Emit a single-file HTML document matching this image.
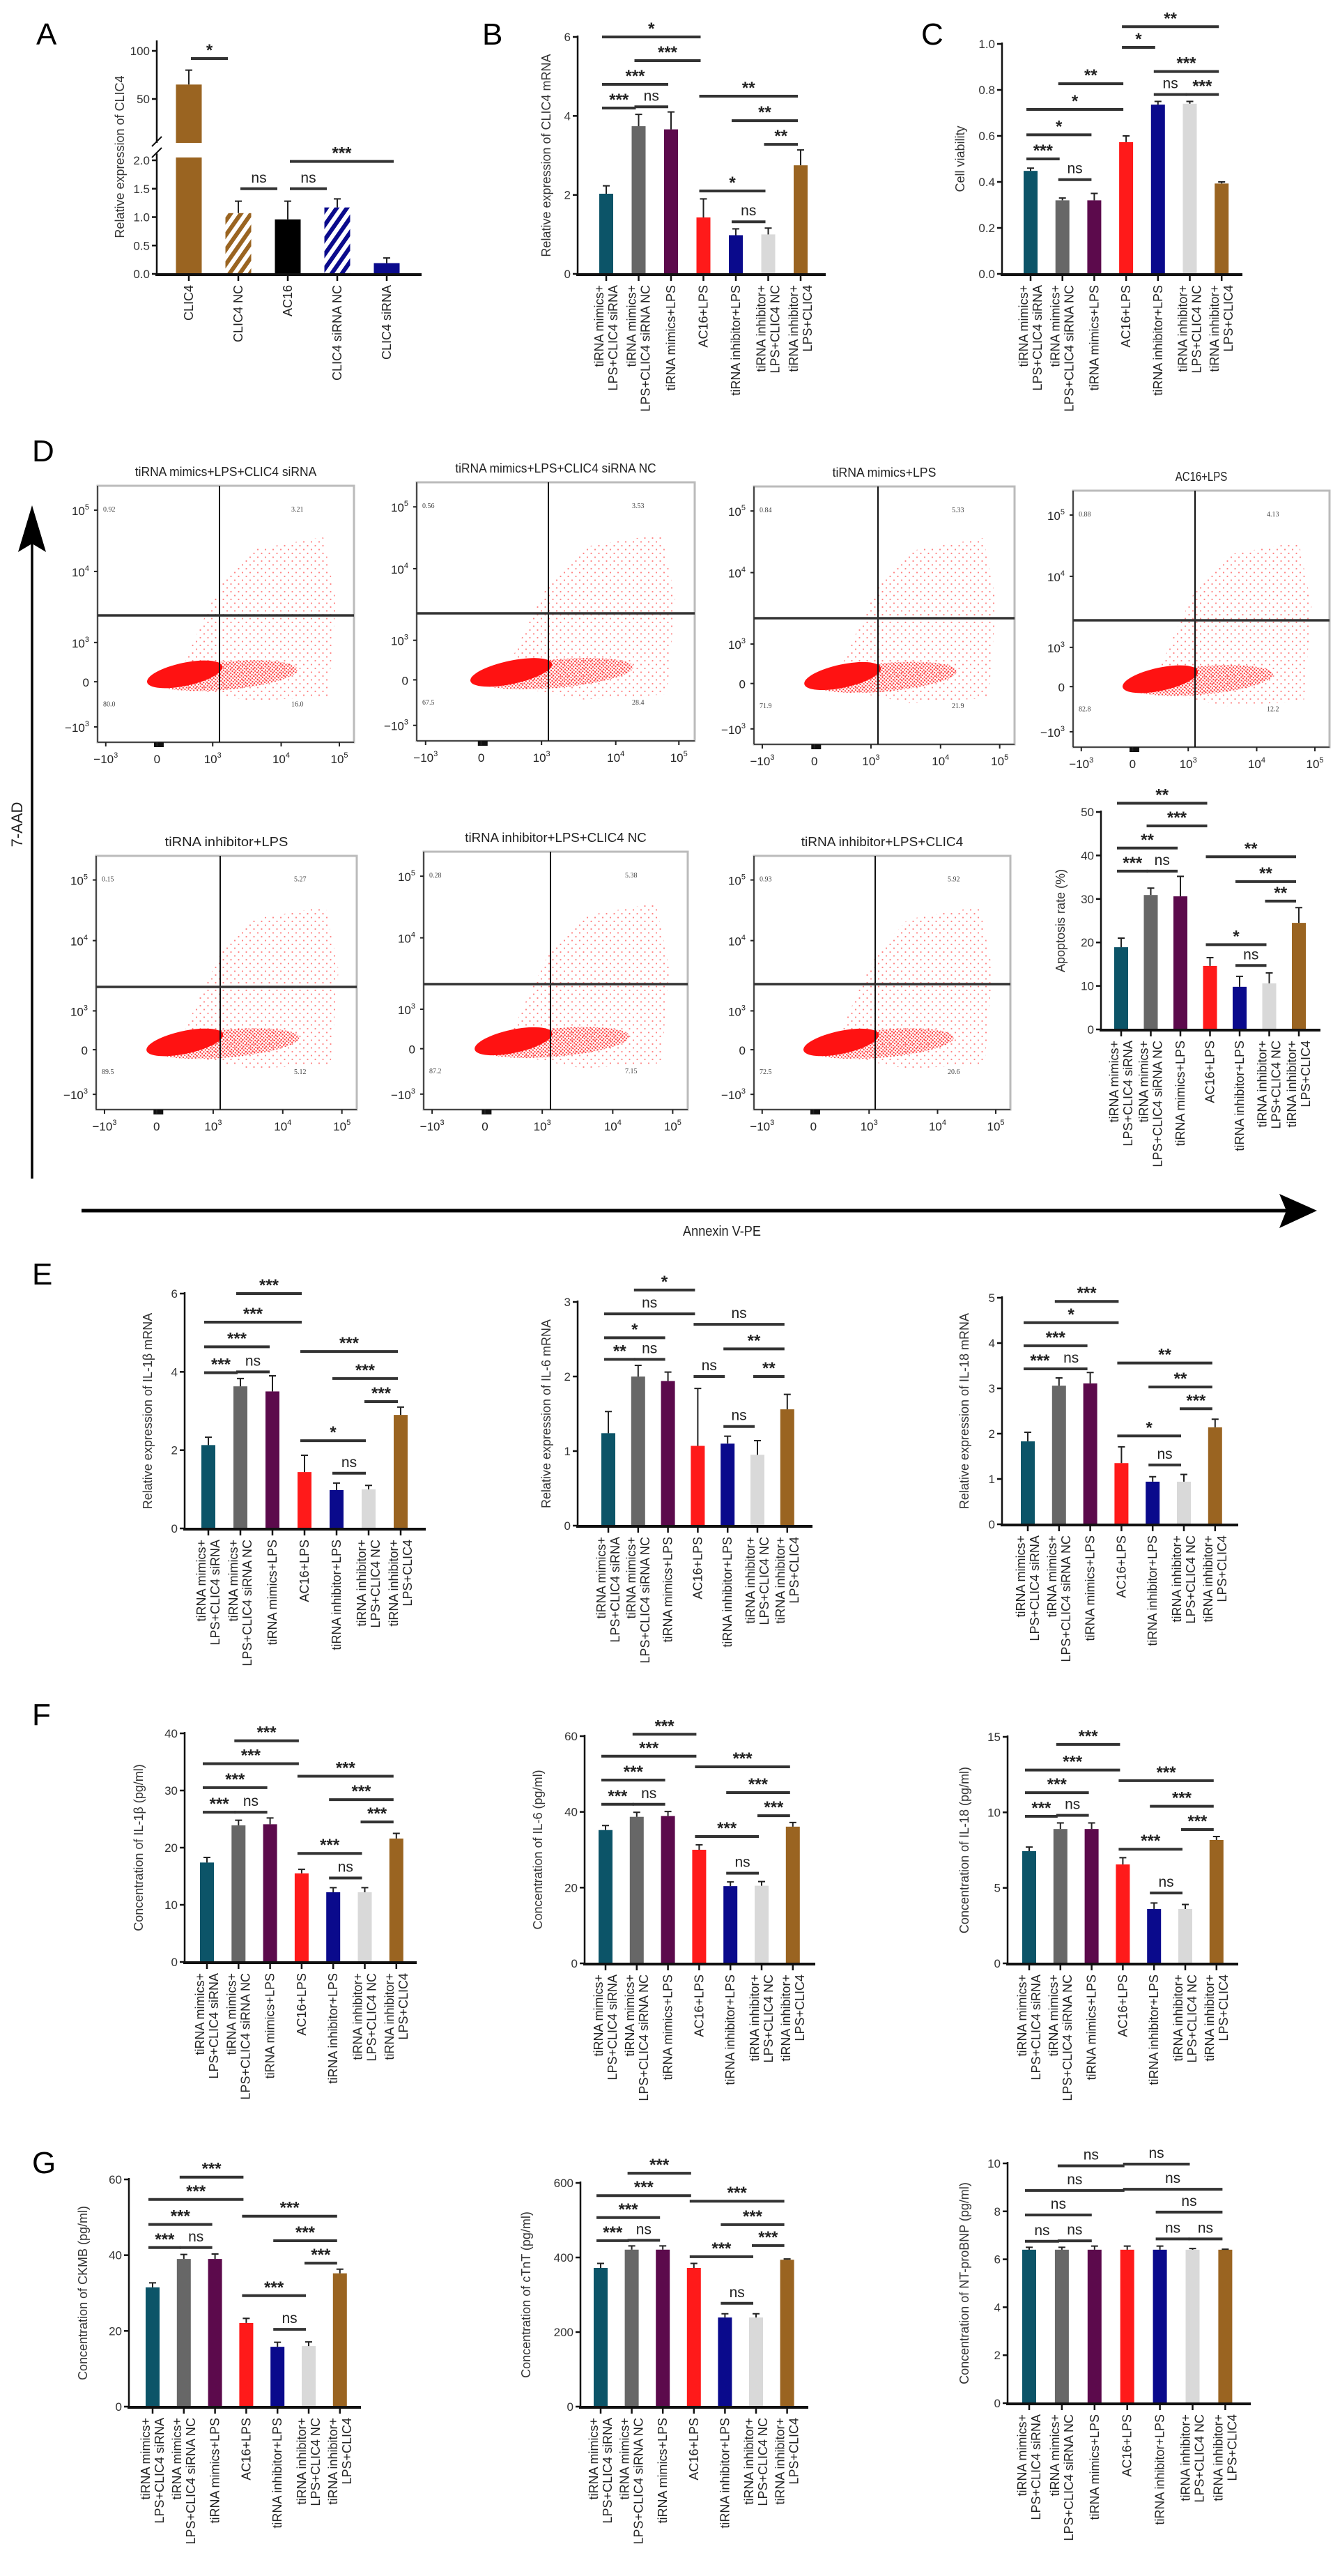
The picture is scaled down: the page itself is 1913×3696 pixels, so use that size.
<!DOCTYPE html>
<html><head><meta charset="utf-8">
<style>
html,body{margin:0;padding:0;background:#fff;}
svg{display:block;font-family:"Liberation Sans",Arial,sans-serif;}
</style></head>
<body>
<svg id="fig" width="1913" height="3696" viewBox="0 0 1913 3696" xmlns="http://www.w3.org/2000/svg">
<defs>
<pattern id="hatchBrown" patternUnits="userSpaceOnUse" width="12" height="12" patternTransform="rotate(35)"><rect width="12" height="12" fill="#fff"/><rect width="6" height="12" fill="#9a6421"/></pattern>
<pattern id="hatchNavy" patternUnits="userSpaceOnUse" width="12" height="12" patternTransform="rotate(35)"><rect width="12" height="12" fill="#fff"/><rect width="6" height="12" fill="#0a0a8c"/></pattern>
<pattern id="dots" patternUnits="userSpaceOnUse" width="11" height="11"><circle cx="1.5" cy="2" r="1.1" fill="#ff2020"/><circle cx="7" cy="7.5" r="1.1" fill="#ff2020"/></pattern>
<pattern id="dotsDense" patternUnits="userSpaceOnUse" width="5" height="5"><circle cx="1.5" cy="1.5" r="1.2" fill="#ff1010"/><circle cx="4" cy="3.8" r="1.2" fill="#ff1010"/></pattern>
</defs>
</svg>
<script>
// ---------- DATA ----------
const groups7 = [["tiRNA mimics+","LPS+CLIC4 siRNA"],["tiRNA mimics+","LPS+CLIC4 siRNA NC"],["tiRNA mimics+LPS"],["AC16+LPS"],["tiRNA inhibitor+LPS"],["tiRNA inhibitor+","LPS+CLIC4 NC"],["tiRNA inhibitor+","LPS+CLIC4"]];
const colors7 = ["#0c5468","#676767","#5c0a4c","#ff1a1a","#0a0a8c","#d9d9d9","#9a6421"];

const aCats = ["CLIC4","CLIC4 NC","AC16","CLIC4 siRNA NC","CLIC4 siRNA"];
const aVals = [65, 1.07, 0.96, 1.17, 0.19];
const aCaps = [80, 1.28, 1.28, 1.32, 0.28];
const aSig = [[0,1,"upper",92,"*"],[1,2,"lower",1.5,"ns"],[2,3,"lower",1.5,"ns"],[2,4,"lower",1.98,"***"]];

const bVals=[2.03,3.74,3.66,1.43,0.98,1.0,2.75];
const bCaps=[2.23,4.04,4.1,1.9,1.14,1.16,3.14];
const bSig=[[0,1,4.2,"***"],[1,2,4.23,"ns"],[0,2,4.8,"***"],[1,3,5.4,"***"],[0,3,6.0,"*"],[3,5,2.1,"*"],[4,5,1.32,"ns"],[5,6,3.28,"**"],[4,6,3.88,"**"],[3,6,4.5,"**"]];
const bTicks=[0,2,4,6];

const cVals=[0.448,0.32,0.32,0.573,0.736,0.74,0.393];
const cCaps=[0.46,0.33,0.35,0.6,0.75,0.75,0.40];
const cSig=[[0,1,0.5,"***"],[1,2,0.41,"ns"],[0,2,0.605,"*"],[0,3,0.715,"*"],[1,3,0.827,"**"],[3,4,0.985,"*"],[4,5,0.78,"ns"],[5,6,0.78,"***"],[4,6,0.88,"***"],[3,6,1.075,"**"]];
const cTicks=[0,0.2,0.4,0.6,0.8,1.0];
const cTickLbl=["0.0","0.2","0.4","0.6","0.8","1.0"];

const apVals=[18.9,30.9,30.6,14.6,9.8,10.6,24.5];
const apCaps=[21,32.5,35.2,16.5,12.2,13,28];
const apSig=[[0,1,36.4,"***"],[1,2,36.4,"ns"],[0,2,41.7,"**"],[1,3,46.8,"***"],[0,3,52,"**"],[3,5,19.5,"*"],[4,5,14.7,"ns"],[5,6,29.5,"**"],[4,6,34,"**"],[3,6,39.7,"**"]];
const apTicks=[0,10,20,30,40,50];

const e1Vals=[2.13,3.63,3.5,1.44,0.98,1.0,2.9];
const e1Caps=[2.33,3.83,3.9,1.87,1.16,1.1,3.1];
const e1Sig=[[0,1,3.98,"***"],[1,2,4.0,"ns"],[0,2,4.64,"***"],[0,3,5.27,"***"],[1,3,6.0,"***"],[3,5,2.24,"*"],[4,5,1.41,"ns"],[5,6,3.24,"***"],[4,6,3.83,"***"],[3,6,4.52,"***"]];
const e1Ticks=[0,2,4,6];

const e2Vals=[1.24,2.0,1.94,1.07,1.1,0.95,1.56];
const e2Caps=[1.53,2.15,2.06,1.84,1.2,1.14,1.76];
const e2Sig=[[0,1,2.23,"**"],[1,2,2.23,"ns"],[0,2,2.52,"*"],[0,3,2.84,"ns"],[1,3,3.16,"*"],[3,4,2.0,"ns"],[4,5,1.33,"ns"],[5,6,2.0,"**"],[4,6,2.37,"**"],[3,6,2.7,"ns"]];
const e2Ticks=[0,1,2,3];

const e3Vals=[1.83,3.06,3.11,1.35,0.94,0.94,2.14];
const e3Caps=[2.03,3.23,3.35,1.71,1.05,1.1,2.32];
const e3Sig=[[0,1,3.43,"***"],[1,2,3.43,"ns"],[0,2,3.94,"***"],[0,3,4.45,"*"],[1,3,4.92,"***"],[3,5,1.95,"*"],[4,5,1.31,"ns"],[5,6,2.55,"***"],[4,6,3.03,"**"],[3,6,3.56,"**"]];
const e3Ticks=[0,1,2,3,4,5];

const f1Vals=[17.4,23.9,24.1,15.5,12.2,12.2,21.6];
const f1Caps=[18.3,24.8,25.2,16.2,13,13,22.5];
const f1Sig=[[0,1,26.2,"***"],[1,2,26.2,"ns"],[0,2,30.5,"***"],[0,3,34.7,"***"],[1,3,38.7,"***"],[3,5,19,"***"],[4,5,14.7,"ns"],[5,6,24.5,"***"],[4,6,28.4,"***"],[3,6,32.5,"***"]];
const f1Ticks=[0,10,20,30,40];

const f2Vals=[35.2,38.7,38.9,30,20.4,20.5,36.1];
const f2Caps=[36.4,39.9,40.1,31.3,21.5,21.6,37.2];
const f2Sig=[[0,1,42,"***"],[1,2,42,"ns"],[0,2,48.4,"***"],[0,3,54.7,"***"],[1,3,60.5,"***"],[3,5,33.5,"***"],[4,5,23.8,"ns"],[5,6,39,"***"],[4,6,45.1,"***"],[3,6,51.9,"***"]];
const f2Ticks=[0,20,40,60];

const f3Vals=[7.43,8.9,8.9,6.55,3.6,3.6,8.17];
const f3Caps=[7.7,9.3,9.3,7.0,4.0,3.9,8.4];
const f3Sig=[[0,1,9.74,"***"],[1,2,9.8,"ns"],[0,2,11.3,"***"],[0,3,12.8,"***"],[1,3,14.5,"***"],[3,5,7.56,"***"],[4,5,4.66,"ns"],[5,6,8.86,"***"],[4,6,10.4,"***"],[3,6,12.1,"***"]];
const f3Ticks=[0,5,10,15];

const g1Vals=[31.5,39,39,22.1,15.8,16,35.2];
const g1Caps=[32.7,40.2,40.3,23.3,17,17.1,36.3];
const g1Sig=[[0,1,42,"***"],[1,2,42,"ns"],[0,2,48.1,"***"],[0,3,54.7,"***"],[1,3,60.6,"***"],[3,5,29.3,"***"],[4,5,20.4,"ns"],[5,6,37.9,"***"],[4,6,43.8,"***"],[3,6,50.3,"***"]];
const g1Ticks=[0,20,40,60];

const g2Vals=[372,421,421,372,239,239,394];
const g2Caps=[384,431,431,384,249,249,396];
const g2Sig=[[0,1,445,"***"],[1,2,446,"ns"],[0,2,507,"***"],[0,3,566,"***"],[1,3,626,"***"],[3,5,402,"***"],[4,5,277,"ns"],[5,6,432,"***"],[4,6,488,"***"],[3,6,551,"***"]];
const g2Ticks=[0,200,400,600];

const g3Vals=[6.4,6.4,6.4,6.4,6.4,6.4,6.4];
const g3Caps=[6.5,6.5,6.55,6.55,6.55,6.45,6.42];
const g3Sig=[[0,1,6.75,"ns"],[1,2,6.77,"ns"],[0,2,7.85,"ns"],[0,3,8.87,"ns"],[1,3,9.9,"ns"],[3,5,9.97,"ns"],[4,5,6.85,"ns"],[5,6,6.85,"ns"],[4,6,7.97,"ns"],[3,6,8.92,"ns"]];
const g3Ticks=[0,2,4,6,8,10];

const flowTitles=["tiRNA mimics+LPS+CLIC4 siRNA","tiRNA mimics+LPS+CLIC4 siRNA NC","tiRNA mimics+LPS","AC16+LPS","tiRNA inhibitor+LPS","tiRNA inhibitor+LPS+CLIC4 NC","tiRNA inhibitor+LPS+CLIC4"];
const flowQ1=["0.92","0.56","0.84","0.88","0.15","0.28","0.93"];
const flowQ2=["3.21","3.53","5.33","4.13","5.27","5.38","5.92"];
const flowQ3=["80.0","67.5","71.9","82.8","89.5","87.2","72.5"];
const flowQ4=["16.0","28.4","21.9","12.2","5.12","7.15","20.6"];

// ---------- DRAW ----------
const NS="http://www.w3.org/2000/svg";
const svg=document.getElementById('fig');
function mk(tag, attrs, parent){
  const e=document.createElementNS(NS,tag);
  for(const k in attrs) e.setAttribute(k,attrs[k]);
  (parent||svg).appendChild(e);
  return e;
}
function txt(s, attrs, parent){
  const e=mk('text',attrs,parent);
  e.textContent=s;
  return e;
}
function panelLetter(s,x,y){
  const t=txt(s,{x:x,y:y,'font-size':44,fill:'#000'});
  
  
}
function sigMark(g,x1,x2,yy,label){
  const l=mk('line',{x1:x1,x2:x2,y1:yy,y2:yy,stroke:'#333','stroke-width':4},g);
  
  
  const isNs=label==='ns';
  const t=txt(label,{x:(x1+x2)/2,y:isNs?yy-9:yy-4,'text-anchor':'middle','font-size':isNs?21:24,'font-weight':isNs?'normal':'bold',fill:'#222'},g);
  
  
}
function barChart(name,L,vals,caps,sig,ticks,tickLbl){
  const g=mk('g',{});
  
  
  const sy=v=>L.base-(v/L.ymax)*(L.base-L.ytop);
  const cx=i=>L.c0+i*L.dx;
  const bw=20;
  const ya=mk('line',{x1:L.ax,x2:L.ax,y1:L.base,y2:sy(L.ymax)-2,stroke:'#111','stroke-width':2.5},g);
  
  
  ticks.forEach((t,k)=>{
    mk('line',{x1:L.ax-7,x2:L.ax,y1:sy(t),y2:sy(t),stroke:'#111','stroke-width':2.5},g);
    const tl=txt(tickLbl?tickLbl[k]:String(t),{x:L.ax-10,y:sy(t)+6,'text-anchor':'end','font-size':17,fill:'#333'},g);
    
    
  });
  const yt=txt(L.title,{x:0,y:0,'text-anchor':'middle','font-size':18,fill:'#333',transform:`translate(${L.tx},${(L.base+L.ytop)/2}) rotate(-90)`},g);
  
  
  vals.forEach((v,i)=>{
    const r=mk('rect',{x:cx(i)-bw/2,y:sy(v),width:bw,height:L.base-sy(v),fill:colors7[i]},g);
    
    
    const ec=mk('path',{d:`M${cx(i)},${sy(v)} V${sy(caps[i])} M${cx(i)-5},${sy(caps[i])} H${cx(i)+5}`,stroke:'#222','stroke-width':2,fill:'none'},g);
    
    
  });
  const xa=mk('line',{x1:L.ax-2,x2:L.xend,y1:L.base+1,y2:L.base+1,stroke:'#111','stroke-width':4},g);
  
  
  groups7.forEach((lines,i)=>{
    mk('line',{x1:cx(i),x2:cx(i),y1:L.base,y2:L.base+10,stroke:'#111','stroke-width':2.5},g);
    const n=lines.length;
    lines.forEach((s,k)=>{
      const off=(k-(n-1)/2)*20+6;
      const t=txt(s,{x:0,y:0,'text-anchor':'end','font-size':18,fill:'#222',transform:`translate(${cx(i)+off},${L.base+16}) rotate(-90)`},g);
      
      
    });
  });
  sig.forEach(s=>sigMark(g,cx(s[0])-6,cx(s[1])-4,sy(s[2]),s[3]));
}

// Panel A (broken axis)
(function(){
  const g=mk('g',{});
  
  
  const ax=225, base=393;
  const lo=v=>base-v*81.5;
  const hi=v=>142-(v-50)*1.38;
  const cx=i=>271+i*71;
  const seg1=mk('line',{x1:ax,x2:ax,y1:base,y2:lo(2.12),stroke:'#111','stroke-width':2.5},g);
  
  
  const seg2=mk('line',{x1:ax,x2:ax,y1:205,y2:58,stroke:'#111','stroke-width':2.5},g);
  
  
  mk('path',{d:'M218,210 L232,196 M218,226 L232,212',stroke:'#111','stroke-width':2,fill:'none'},g);
  [0,0.5,1.0,1.5,2.0].forEach(t=>{
    mk('line',{x1:ax-7,x2:ax,y1:lo(t),y2:lo(t),stroke:'#111','stroke-width':2.5},g);
    const tl=txt(t.toFixed(1),{x:ax-10,y:lo(t)+6,'text-anchor':'end','font-size':17,fill:'#333'},g);
    
    
  });
  [50,100].forEach(t=>{
    mk('line',{x1:ax-7,x2:ax,y1:hi(t),y2:hi(t),stroke:'#111','stroke-width':2.5},g);
    const tl=txt(String(t),{x:ax-10,y:hi(t)+6,'text-anchor':'end','font-size':17,fill:'#333'},g);
    
    
  });
  const yt=txt("Relative expression of CLIC4",{x:0,y:0,'text-anchor':'middle','font-size':18,fill:'#333',transform:'translate(178,225) rotate(-90)'},g);
  
  
  const fills=["#9a6421","url(#hatchBrown)","#000","url(#hatchNavy)","#0a0a8c"];
  aVals.forEach((v,i)=>{
    const bw=37;
    if(v>2.1){
      const r1=mk('rect',{x:cx(i)-bw/2,y:lo(2.05),width:bw,height:base-lo(2.05),fill:fills[i]},g);
      
      
      const r2=mk('rect',{x:cx(i)-bw/2,y:hi(v),width:bw,height:205-hi(v),fill:fills[i]},g);
      
      
      mk('path',{d:`M${cx(i)},${hi(v)} V${hi(aCaps[i])} M${cx(i)-5},${hi(aCaps[i])} H${cx(i)+5}`,stroke:'#222','stroke-width':2,fill:'none'},g);
    } else {
      const r=mk('rect',{x:cx(i)-bw/2,y:lo(v),width:bw,height:base-lo(v),fill:fills[i]},g);
      
      
      mk('path',{d:`M${cx(i)},${lo(v)} V${lo(aCaps[i])} M${cx(i)-5},${lo(aCaps[i])} H${cx(i)+5}`,stroke:'#222','stroke-width':2,fill:'none'},g);
    }
    mk('line',{x1:cx(i),x2:cx(i),y1:base,y2:base+10,stroke:'#111','stroke-width':2.5},g);
    const t=txt(aCats[i],{x:0,y:0,'text-anchor':'end','font-size':18,fill:'#222',transform:`translate(${cx(i)+6},${base+16}) rotate(-90)`},g);
    
    
  });
  const xa=mk('line',{x1:ax-2,x2:605,y1:base+1,y2:base+1,stroke:'#111','stroke-width':4},g);
  
  
  aSig.forEach(s=>{
    const yy=s[2]==='upper'?hi(s[3]):lo(s[3]);
    sigMark(g,cx(s[0])+3,cx(s[1])-15+(s[1]-s[0]>1?25:0),yy,s[4]);
  });
})();

panelLetter("A",52,64);
panelLetter("B",692,64);
panelLetter("C",1322,64);
panelLetter("D",46,662);
panelLetter("E",46,1843);
panelLetter("F",46,2475);
panelLetter("G",46,3118);

barChart('panel-b-chart',{ax:829,base:393,ytop:53,ymax:6,c0:870,dx:46.5,xend:1185,title:'Relative expression of CLIC4 mRNA',tx:790},bVals,bCaps,bSig,bTicks);
barChart('panel-c-chart',{ax:1438,base:393,ytop:63,ymax:1,c0:1479,dx:45.7,xend:1783,title:'Cell viability',tx:1384},cVals,cCaps,cSig,cTicks,cTickLbl);
barChart('apoptosis-chart',{ax:1580,base:1477,ytop:1165,ymax:50,c0:1609,dx:42.5,xend:1895,title:'Apoptosis rate (%)',tx:1528},apVals,apCaps,apSig,apTicks);
barChart('il1b-mrna-chart',{ax:265,base:2193,ytop:1856,ymax:6,c0:299,dx:46,xend:611,title:'Relative expression of IL-1β mRNA',tx:218},e1Vals,e1Caps,e1Sig,e1Ticks);
barChart('il6-mrna-chart',{ax:829,base:2189,ytop:1868,ymax:3,c0:873,dx:42.8,xend:1166,title:'Relative expression of IL-6 mRNA',tx:790},e2Vals,e2Caps,e2Sig,e2Ticks);
barChart('il18-mrna-chart',{ax:1438,base:2187,ytop:1862,ymax:5,c0:1475,dx:44.8,xend:1777,title:'Relative expression of IL-18 mRNA',tx:1390},e3Vals,e3Caps,e3Sig,e3Ticks);
barChart('il1b-conc-chart',{ax:265,base:2815,ytop:2487,ymax:40,c0:297,dx:45.3,xend:598,title:'Concentration of IL-1β (pg/ml)',tx:205},f1Vals,f1Caps,f1Sig,f1Ticks);
barChart('il6-conc-chart',{ax:839,base:2817,ytop:2491,ymax:60,c0:869,dx:44.8,xend:1170,title:'Concentration of IL-6 (pg/ml)',tx:778},f2Vals,f2Caps,f2Sig,f2Ticks);
barChart('il18-conc-chart',{ax:1446,base:2817,ytop:2492,ymax:15,c0:1477,dx:44.8,xend:1777,title:'Concentration of IL-18 (pg/ml)',tx:1390},f3Vals,f3Caps,f3Sig,f3Ticks);
barChart('ckmb-chart',{ax:185,base:3453,ytop:3127,ymax:60,c0:219,dx:44.8,xend:518,title:'Concentration of CKMB (pg/ml)',tx:125},g1Vals,g1Caps,g1Sig,g1Ticks);
barChart('ctnt-chart',{ax:833,base:3453,ytop:3132,ymax:600,c0:862,dx:44.6,xend:1160,title:'Concentration of cTnT (pg/ml)',tx:761},g2Vals,g2Caps,g2Sig,g2Ticks);
barChart('ntprobnp-chart',{ax:1446,base:3448,ytop:3104,ymax:10,c0:1477,dx:46.9,xend:1795,title:'Concentration of NT-proBNP (pg/ml)',tx:1390},g3Vals,g3Caps,g3Sig,g3Ticks);

// Flow plots
const flowBoxes=[[140,697,368,368,315,883],[598,692,399,371,787,880],[1082,698,374,370,1260,887],[1540,704,368,368,1715,890],[138,1228,374,364,316,1416],[608,1222,379,370,790,1412],[1082,1228,368,364,1256,1412]];
flowBoxes.forEach((b,i)=>{
  const [x,y,w,h,gx,gy]=b;
  const g=mk('g',{});
  
  
  const tt=txt(flowTitles[i],{x:x+w/2,y:y-14,'text-anchor':'middle','font-size':18,fill:'#222',textLength:Math.min(w-20,flowTitles[i].length*9.3),lengthAdjust:'spacingAndGlyphs'},g);
  
  
  mk('rect',{x:x,y:y,width:w,height:h,fill:'#fff',stroke:'#bbb','stroke-width':3},g);
  mk('line',{x1:x,x2:x,y1:y,y2:y+h,stroke:'#222','stroke-width':1.5},g);
  mk('line',{x1:x,x2:x+w,y1:y+h,y2:y+h,stroke:'#222','stroke-width':1.5},g);
  const P=[[0.3,0.78],[0.4,0.55],[0.48,0.38],[0.6,0.25],[0.88,0.2],[0.93,0.45],[0.9,0.82],[0.6,0.84]];
  const sp=mk('polygon',{points:P.map(p=>(x+p[0]*w)+','+(y+p[1]*h)).join(' '),fill:'url(#dots)',opacity:0.55},g);
  
  
  const mid=mk('ellipse',{cx:x+0.5*w,cy:y+0.74*h,rx:0.28*w,ry:0.055*h,fill:'url(#dotsDense)',opacity:0.8,transform:`rotate(-5 ${x+0.5*w} ${y+0.74*h})`},g);
  
  
  const core=mk('ellipse',{cx:x+0.34*w,cy:y+0.735*h,rx:0.15*w,ry:0.045*h,fill:'#ff1212',transform:`rotate(-12 ${x+0.34*w} ${y+0.735*h})`},g);
  
  
  mk('line',{x1:gx,x2:gx,y1:y,y2:y+h,stroke:'#111','stroke-width':2},g);
  mk('line',{x1:x,x2:x+w,y1:gy,y2:gy,stroke:'#333','stroke-width':3.5},g);
  const qs=[[flowQ1[i],x+8,y+0.1*h],[flowQ2[i],x+w-90,y+0.1*h],[flowQ3[i],x+8,y+0.86*h],[flowQ4[i],x+w-90,y+0.86*h]];
  qs.forEach(q=>{
    const t=txt(q[0],{x:q[1],y:q[2],'font-size':10,'font-family':'Liberation Serif, serif',fill:'#444'},g);
    
    
  });
  const yf=[0.095,0.334,0.611,0.764,0.94];
  const yl=[["10","5"],["10","4"],["10","3"],["0",""],["−10","3"]];
  yf.forEach((f,k)=>{
    mk('line',{x1:x-5,x2:x,y1:y+f*h,y2:y+f*h,stroke:'#222','stroke-width':2},g);
    const t=txt(yl[k][0],{x:x-12,y:y+f*h+7,'text-anchor':'end','font-size':17,fill:'#222'},g);
    if(yl[k][1]){const s=mk('tspan',{dy:-8,'font-size':11},t);s.textContent=yl[k][1];}
    
    
  });
  const xf=[0.032,0.232,0.449,0.716,0.943];
  const xl=[["−10","3"],["0",""],["10","3"],["10","4"],["10","5"]];
  mk('rect',{x:x+0.22*w,y:y+h,width:14,height:7,fill:'#111'},g);
  xf.forEach((f,k)=>{
    mk('line',{x1:x+f*w,x2:x+f*w,y1:y+h,y2:y+h+6,stroke:'#222','stroke-width':2},g);
    const t=txt(xl[k][0],{x:x+f*w,y:y+h+30,'text-anchor':'middle','font-size':17,fill:'#222'},g);
    if(xl[k][1]){const s=mk('tspan',{dy:-8,'font-size':11},t);s.textContent=xl[k][1];}
    
    
  });
});

const va=mk('path',{d:'M46,1691 V770',stroke:'#000','stroke-width':3.5,fill:'none'});


const vh=mk('polygon',{points:'46,725 66,792 46,780 26,792',fill:'#000'});


const yl7=txt('7-AAD',{x:0,y:0,'text-anchor':'middle','font-size':22,fill:'#222',transform:'translate(32,1183) rotate(-90)'});


const ha=mk('path',{d:'M117,1737 H1850',stroke:'#000','stroke-width':5,fill:'none'});


const hh=mk('polygon',{points:'1890,1737 1836,1713 1846,1737 1836,1762',fill:'#000'});


const xlA=txt('Annexin V-PE',{x:1036,y:1773,'text-anchor':'middle','font-size':20,fill:'#222',textLength:112,lengthAdjust:'spacingAndGlyphs'});


</script>
</body></html>
